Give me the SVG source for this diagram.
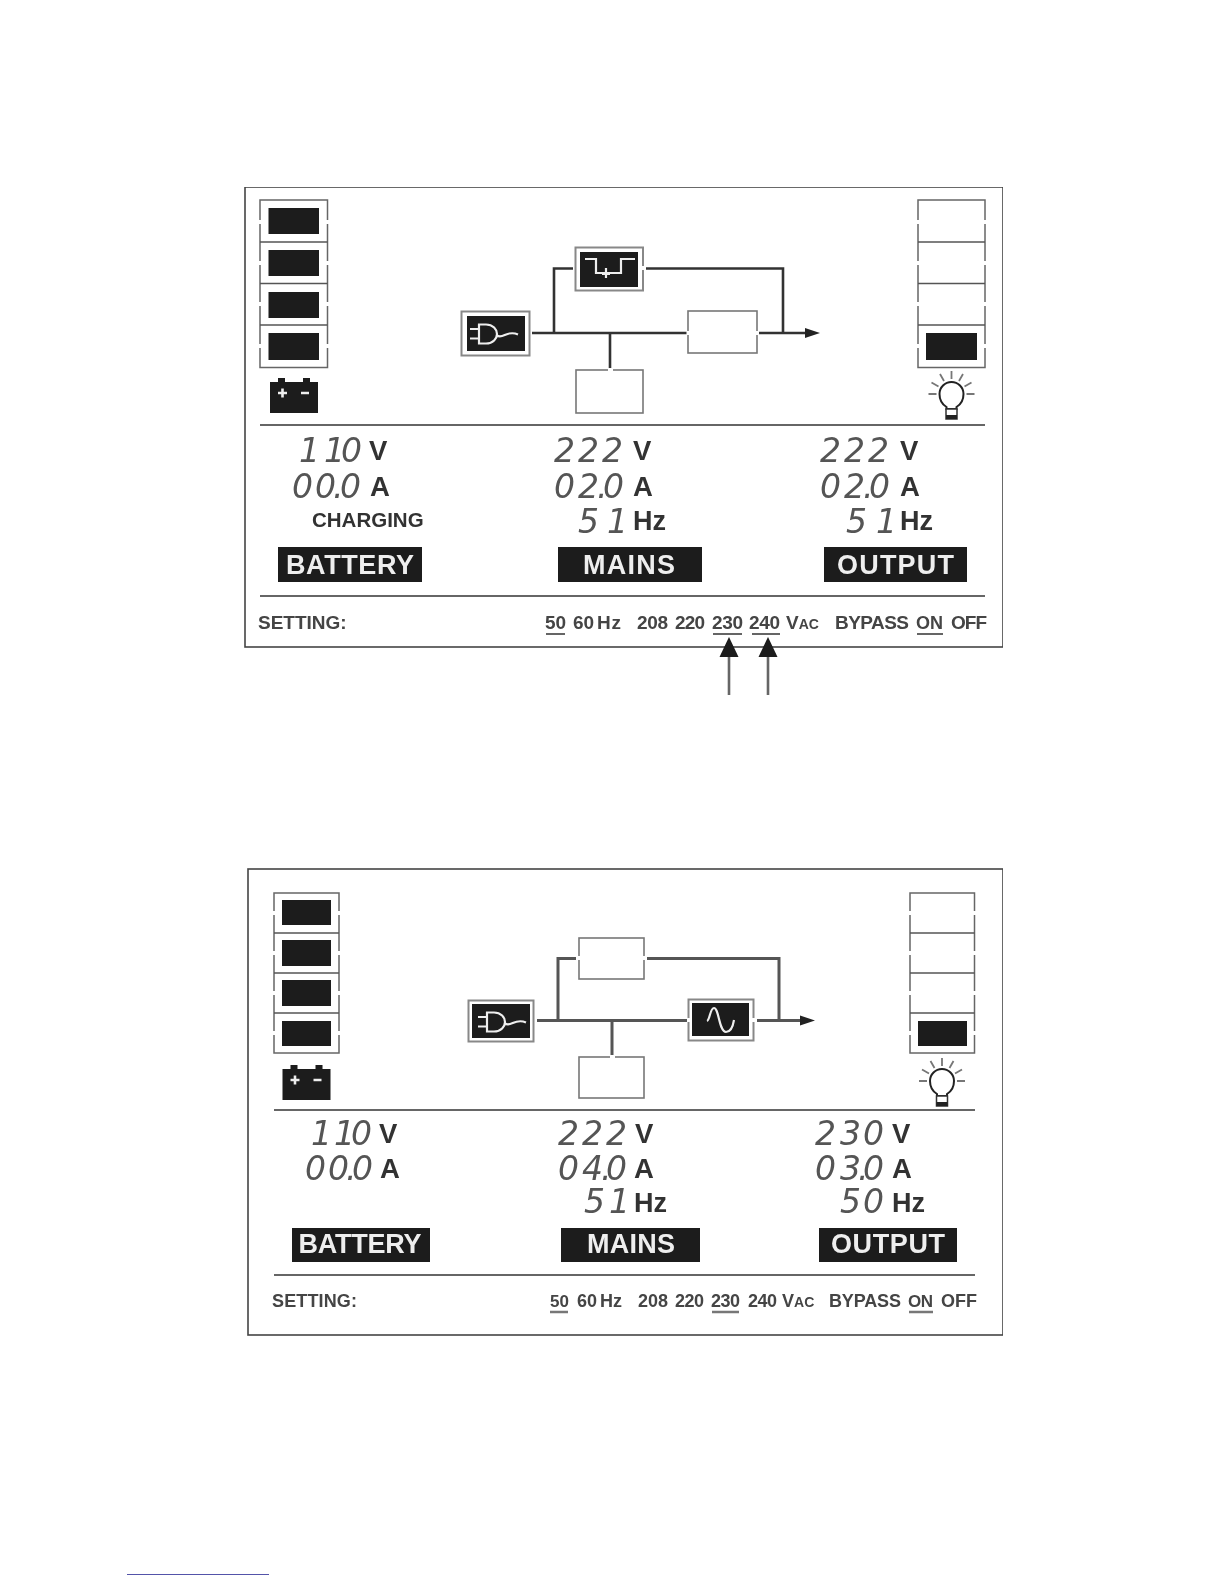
<svg xmlns="http://www.w3.org/2000/svg" width="1224" height="1584" viewBox="0 0 1224 1584">
<style>
text{font-family:"Liberation Sans",Arial,sans-serif}
.frame{fill:#fff;stroke:#444;stroke-width:1.6}
.cell{fill:none;stroke:#666;stroke-width:1.5}
.div{stroke:#555;stroke-width:1.4;fill:none}
.gap{stroke:#fff;stroke-width:3;fill:none}
.blk{fill:#1a1a1a}
.hr{stroke:#666;stroke-width:2}
.nodeo{fill:#fff;stroke:#888;stroke-width:2}
.box{fill:#fff;stroke:#777;stroke-width:1.6}
.ico{fill:none;stroke:#eee;stroke-width:2.2}
.wire{fill:none;stroke:#333;stroke-width:2.6}
.wire2{fill:none;stroke:#555;stroke-width:3}
.seg{font-family:"DejaVu Sans","Liberation Sans",sans-serif;font-size:33px;font-weight:400;font-style:italic;fill:#555}
.unit{font-weight:700;font-size:27.5px;fill:#333}
.hz{font-weight:700;font-size:27px;fill:#333}
.tag{font-weight:700;font-size:27px;fill:#eee;text-anchor:middle}
.set{font-weight:700;font-size:19px;fill:#444}
.set2{font-weight:700;font-size:18px;fill:#444}
.small{font-size:14px}
.ul{stroke:#333;stroke-width:1.6}
.ul2{stroke:#777;stroke-width:2.4}
.sh{stroke:#666;stroke-width:2.6}
</style>
<defs>
<filter id="soft" x="0" y="0" width="100%" height="100%"><feGaussianBlur stdDeviation="0.4"/></filter>
<marker id="ah" markerUnits="userSpaceOnUse" markerWidth="16" markerHeight="12" refX="1" refY="6" orient="auto"><path d="M0 1L15 6L0 11Z" fill="#222"/></marker>
<g id="plug"><path class="ico" d="M-9-4.500H0M-9 5H0M0-9H7C14-9 18-4 18 .5C18 5 14 10 7 10H0ZM18 2C24 6 28-4 39 1"/></g>
<g id="batt"><rect x="-24" y="-12" width="48" height="31" class="blk"/><rect x="-16" y="-16" width="7" height="5" class="blk"/><rect x="9" y="-16" width="7" height="5" class="blk"/><path d="M-16-1H-7M-11.500-5.500V3.500M7-1H15" stroke="#eee" stroke-width="2.6"/></g>
<g id="bulb"><g stroke="#777" stroke-width="1.8"><path d="M0-23V-15M-11.500-20L-7.500-13M11.500-20L7.500-13M-20-11.500L-13-7.500M20-11.500L13-7.500M-23 0H-15M23 0H15"/></g><path d="M-5 13C-10 10-12 5-12 0A12 12 0 0 1 12 0C12 5 10 10 5 13V15H-5Z" fill="#fff" stroke="#222" stroke-width="2"/><rect x="-5.500" y="15" width="11" height="10" fill="#fff" stroke="#333" stroke-width="1.5"/><rect x="-5.500" y="21" width="11" height="4" fill="#222"/></g>
</defs>
<rect width="1224" height="1584" fill="#fff"/>
<g filter="url(#soft)">
<g id="panel-1"><rect class="frame" x="245" y="187" width="758" height="460"/></g>
<g id="battery-bars-1">
<rect class="cell" x="260" y="200" width="67.500" height="167.500"/>
<path class="div" d="M260 242H327.500M260 283.500H327.500M260 325H327.500"/>
<path class="gap" d="M260 220V224M327.500 220V224M260 261V265M327.500 261V265M260 302V306M327.500 302V306M260 344V348M327.500 344V348"/>
<rect class="blk" x="268.500" y="208" width="50.500" height="26"/><rect class="blk" x="268.500" y="250" width="50.500" height="26"/><rect class="blk" x="268.500" y="292" width="50.500" height="26"/><rect class="blk" x="268.500" y="333" width="50.500" height="27"/>
</g>
<g id="battery-icon-1"><use href="#batt" x="294" y="394"/></g>
<g id="load-bars-1">
<rect class="cell" x="918" y="200" width="67" height="167.500"/>
<path class="div" d="M918 242H985M918 283.500H985M918 325H985"/>
<path class="gap" d="M918 220V224M985 220V224M918 261V265M985 261V265M918 302V306M985 302V306M918 344V348M985 344V348"/>
<rect class="blk" x="926" y="333" width="51" height="27"/>
</g>
<g id="bulb-1"><use href="#bulb" x="951.500" y="394"/></g>

<g id="connectors-1">
<path class="wire" d="M532 333H688M759 333H806" marker-end="url(#ah)"/>
<path class="wire" d="M554 333V268.500H573M646 268.500H783V333M610 333V368"/>
<line class="sh" x1="729" y1="695" x2="729" y2="655"/><path d="M729 637L738.500 657H719.500Z" fill="#1a1a1a"/>
<line class="sh" x1="768" y1="695" x2="768" y2="655"/><path d="M768 637L777.500 657H758.500Z" fill="#1a1a1a"/>
</g>
<g id="mains-in-1"><rect class="nodeo" x="461.500" y="311.500" width="68" height="44"/><rect class="blk" x="467" y="316" width="58" height="35"/><use href="#plug" x="479" y="333.500"/></g>
<g id="bypass-1"><rect class="nodeo" x="575.500" y="247.500" width="67.500" height="43"/><rect class="blk" x="580" y="252" width="58" height="35"/><path class="ico" d="M585 259H596V273H621V259H635M606 268V278M602 274H610"/><path class="gap" d="M643 266V270"/></g>
<g id="inverter-1"><rect class="box" x="688" y="311" width="69" height="42"/><path class="gap" d="M688 331V335M757 331V335"/></g>
<g id="charger-1"><rect class="box" x="576" y="370" width="67" height="43"/><path class="gap" d="M608 370H613"/></g>

<line class="hr" x1="260" y1="425" x2="985" y2="425"/>
<g id="readouts-1">
<text class="seg" x="299 324 341" y="462">110</text><text class="unit" x="369" y="460">V</text>
<text class="seg" x="292 315 333 340" y="498">00.0</text><text class="unit" x="370" y="496">A</text>
<text x="312" y="527" font-weight="700" font-size="20.500" fill="#333">CHARGING</text>
<text class="seg" x="554 578 602" y="462">222</text><text class="unit" x="633" y="460">V</text>
<text class="seg" x="554 578 597 603" y="498">02.0</text><text class="unit" x="633" y="496">A</text>
<text class="seg" x="578 607" y="533">51</text><text class="hz" x="633" y="530">Hz</text>
<text class="seg" x="820 844 868" y="462">222</text><text class="unit" x="900" y="460">V</text>
<text class="seg" x="820 844 863 869" y="498">02.0</text><text class="unit" x="900" y="496">A</text>
<text class="seg" x="846 876" y="533">51</text><text class="hz" x="900" y="530">Hz</text>
</g>
<g id="tags-1">
<rect class="blk" x="278" y="547" width="144" height="35"/><text class="tag" x="350" y="574" textLength="128">BATTERY</text>
<rect class="blk" x="558" y="547" width="144" height="35"/><text class="tag" x="629" y="574" textLength="92">MAINS</text>
<rect class="blk" x="824" y="547" width="143" height="35"/><text class="tag" x="895.500" y="574" textLength="117">OUTPUT</text>
</g>
<line class="hr" x1="260" y1="596" x2="985" y2="596"/>
<g id="settings-1">
<text class="set" x="258" y="629">SETTING:</text>
<text class="set" x="545" y="629" font-size="18">50</text><text class="set" x="573" y="629" font-size="18">60</text><text class="set" x="597" y="629" font-size="18" textLength="24">Hz</text>
<text class="set" x="637" y="629" textLength="31">208</text><text class="set" x="675" y="629" textLength="30">220</text><text class="set" x="712" y="629" textLength="31">230</text><text class="set" x="749" y="629" textLength="31">240</text>
<text class="set" x="786" y="629">V<tspan class="small">AC</tspan></text>
<text class="set" x="835" y="629" textLength="74">BYPASS</text><text class="set" x="916" y="629" style="font-size:18px" textLength="27">ON</text><text class="set" x="951" y="629" textLength="36">OFF</text>
<path class="ul" d="M546 634H565M713 634H742M752 634H780M917 634H943"/>
</g>

<g id="panel-2"><rect class="frame" x="248" y="869" width="755" height="466"/></g>
<g id="battery-bars-2">
<rect class="cell" x="274" y="893" width="65" height="160"/>
<path class="div" d="M274 933H339M274 973H339M274 1013H339"/>
<path class="gap" d="M274 911V915M339 911V915M274 951V955M339 951V955M274 991V995M339 991V995M274 1031V1035M339 1031V1035"/>
<rect class="blk" x="282" y="900" width="49" height="25"/><rect class="blk" x="282" y="940" width="49" height="26"/><rect class="blk" x="282" y="980" width="49" height="26"/><rect class="blk" x="282" y="1021" width="49" height="25"/>
</g>
<g id="battery-icon-2"><use href="#batt" x="306.500" y="1081"/></g>
<g id="load-bars-2">
<rect class="cell" x="910" y="893" width="64.500" height="160"/>
<path class="div" d="M910 933H974.500M910 973H974.500M910 1013H974.500"/>
<path class="gap" d="M910 911V915M974.500 911V915M910 951V955M974.500 951V955M910 991V995M974.500 991V995M910 1031V1035M974.500 1031V1035"/>
<rect class="blk" x="918" y="1021" width="49" height="25"/>
</g>
<g id="bulb-2"><use href="#bulb" x="942" y="1081"/></g>

<g id="connectors-2">
<path class="wire2" d="M537 1020.500H687M757 1020.500H801" marker-end="url(#ah)"/>
<path class="wire2" d="M558 1020V958.500H576M647 958.500H779V1020M612 1020V1055"/>
</g>
<g id="mains-in-2"><rect class="nodeo" x="468.500" y="1000.500" width="65" height="41"/><rect class="blk" x="472" y="1004" width="58" height="34"/><use href="#plug" x="487" y="1021.500"/></g>
<g id="bypass-2"><rect class="box" x="579" y="938" width="65" height="41"/><path class="gap" d="M579 956V960M644 956V960"/></g>
<g id="inverter-2"><rect class="nodeo" x="688.500" y="999.500" width="65" height="41"/><rect class="blk" x="692" y="1003" width="57" height="33"/><path class="ico" d="M707 1021C710 1020 710 1008 714 1008C719 1008 719 1032 726 1032C731 1032 733 1026 734 1020"/><path class="gap" d="M688.500 1018V1022M753.500 1018V1022"/></g>
<g id="charger-2"><rect class="box" x="579" y="1057" width="65" height="41"/><path class="gap" d="M610 1057H615"/></g>

<line class="hr" x1="274" y1="1110" x2="975" y2="1110"/>
<g id="readouts-2">
<text class="seg" x="311 334 351" y="1145">110</text><text class="unit" x="379" y="1143">V</text>
<text class="seg" x="305 328 346 352" y="1180">00.0</text><text class="unit" x="380" y="1178">A</text>
<text class="seg" x="558 582 606" y="1145">222</text><text class="unit" x="635" y="1143">V</text>
<text class="seg" x="558 582 601 606" y="1180">04.0</text><text class="unit" x="634" y="1178">A</text>
<text class="seg" x="584 609" y="1213">51</text><text class="hz" x="634" y="1212">Hz</text>
<text class="seg" x="815 840 863" y="1145">230</text><text class="unit" x="892" y="1143">V</text>
<text class="seg" x="815 840 858 863" y="1180">03.0</text><text class="unit" x="892" y="1178">A</text>
<text class="seg" x="840 863" y="1213">50</text><text class="hz" x="892" y="1212">Hz</text>
</g>
<g id="tags-2">
<rect class="blk" x="292" y="1228" width="138" height="34"/><text class="tag" x="360" y="1253" textLength="123">BATTERY</text>
<rect class="blk" x="561" y="1228" width="139" height="34"/><text class="tag" x="631" y="1253" textLength="88">MAINS</text>
<rect class="blk" x="819" y="1228" width="138" height="34"/><text class="tag" x="888" y="1253" textLength="114">OUTPUT</text>
</g>
<line class="hr" x1="274" y1="1275" x2="975" y2="1275"/>
<g id="settings-2">
<text class="set2" x="272" y="1307" textLength="85">SETTING:</text>
<text class="set2" x="550" y="1307" style="font-size:17px" textLength="19">50</text><text class="set2" x="577" y="1307" textLength="20">60</text><text class="set2" x="600" y="1307" textLength="22">Hz</text>
<text class="set2" x="638" y="1307" textLength="30">208</text><text class="set2" x="675" y="1307" textLength="29">220</text><text class="set2" x="711" y="1307" textLength="29">230</text><text class="set2" x="748" y="1307" textLength="29">240</text>
<text class="set2" x="782" y="1307">V<tspan class="small">AC</tspan></text>
<text class="set2" x="829" y="1307" textLength="72">BYPASS</text><text class="set2" x="908" y="1307" style="font-size:17px" textLength="25">ON</text><text class="set2" x="941" y="1307" textLength="36">OFF</text>
<path class="ul2" d="M550 1312H568M712 1312H739M909 1312H933"/>
</g>
<line x1="127" y1="1575" x2="269" y2="1575" stroke="#1a1a8c" stroke-width="1.500"/>
</g>
</svg>
